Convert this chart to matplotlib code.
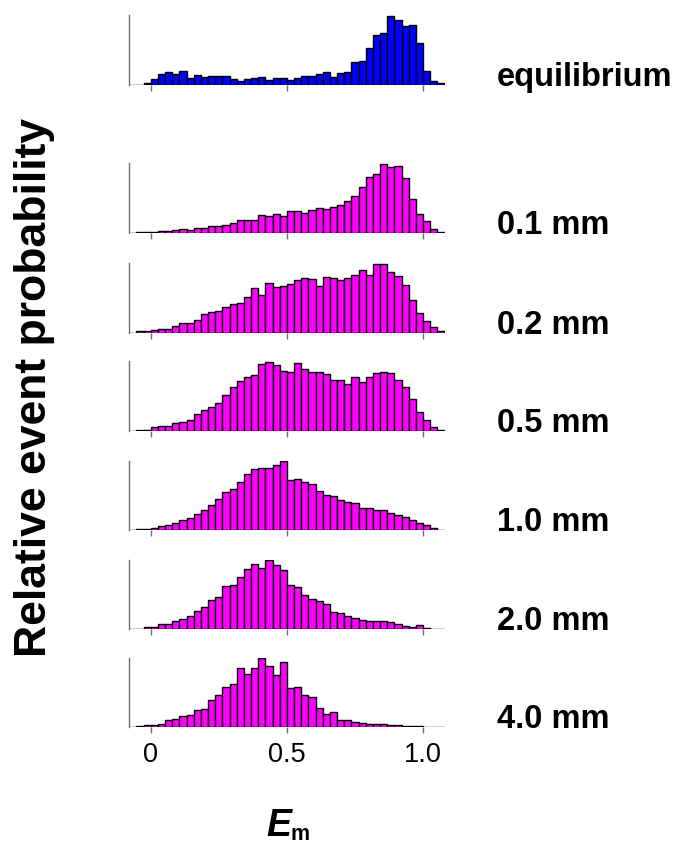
import matplotlib
matplotlib.use("Agg")
import matplotlib.pyplot as plt
import numpy as np

plt.rcParams['font.family'] = ['Liberation Sans', 'DejaVu Sans']

# E_m histograms, 44 bins of width 1/38 starting 3 bins below 0
bin_width = 1.0 / 38
n_bins = 44

equilibrium = [0, 0, 5, 17, 35, 39, 33, 42, 20, 32, 23, 26, 26, 26, 17, 12, 17, 20, 23, 16, 20, 20,
               15, 21, 26, 26, 33, 39, 23, 36, 39, 69, 74, 113, 153, 158, 210, 197, 180, 183, 128, 44, 12, 5]
d_01mm = [1, 4, 4, 4, 7, 7, 10, 13, 10, 15, 15, 20, 22, 25, 30, 40, 39, 39, 54, 51, 57, 51,
          66, 67, 61, 70, 75, 73, 78, 85, 96, 111, 138, 167, 178, 207, 198, 202, 165, 102, 58, 36, 12, 4]
d_02mm = [1, 6, 6, 9, 12, 13, 20, 30, 30, 40, 57, 63, 66, 78, 86, 90, 108, 135, 114, 150, 137, 141,
          147, 159, 166, 163, 141, 167, 165, 160, 166, 174, 190, 174, 207, 207, 184, 171, 143, 100, 60, 36, 18, 6]
d_05mm = [1, 2, 4, 11, 15, 15, 24, 27, 32, 50, 63, 73, 83, 107, 133, 151, 161, 167, 203, 207, 199, 179,
          178, 205, 187, 178, 176, 172, 153, 152, 142, 161, 148, 161, 174, 176, 173, 153, 133, 97, 58, 34, 13, 4]
d_10mm = [1, 2, 3, 7, 11, 15, 20, 29, 36, 49, 60, 77, 93, 116, 125, 147, 169, 184, 188, 188, 197, 209,
          153, 155, 146, 139, 119, 107, 102, 92, 85, 83, 68, 67, 60, 60, 53, 47, 38, 29, 20, 14, 5, 1]
d_20mm = [1, 1, 5, 5, 16, 16, 24, 30, 41, 56, 66, 89, 98, 132, 135, 158, 181, 198, 184, 209, 193, 178,
          134, 128, 102, 92, 86, 77, 53, 49, 41, 32, 26, 24, 24, 24, 21, 14, 8, 5, 11, 4, 0, 1]
d_40mm = [0, 3, 7, 6, 10, 20, 24, 34, 37, 50, 55, 81, 97, 119, 129, 178, 158, 178, 207, 184, 156, 195,
          118, 120, 96, 90, 56, 40, 45, 22, 20, 15, 12, 9, 9, 10, 6, 5, 4, 3, 3, 1, 1, 1]

series = [equilibrium, d_01mm, d_02mm, d_05mm, d_10mm, d_20mm, d_40mm]
labels = ['equilibrium', '0.1 mm', '0.2 mm', '0.5 mm', '1.0 mm', '2.0 mm', '4.0 mm']
colors = ['#0000ff'] + ['#ff00ff'] * 6

tick_vals = [0, 0.5, 1.0]
tick_labels = ['0', '0.5', '1.0']

W, H = 677, 846
fig = plt.figure(figsize=(W / 100, H / 100), dpi=100)

baselines = [85, 233, 333, 431, 530, 629, 727]
panel_h = 69.5
ax_left = 129.2 / W
ax_w = 315.3 / W

edges = (np.arange(n_bins) - 3) * bin_width

for i, vals in enumerate(series):
    vals = np.array(vals, dtype=float)
    vals = vals / vals.max()
    ax = fig.add_axes([ax_left, 1 - baselines[i] / H, ax_w, panel_h / H])
    ax.bar(edges, vals, width=bin_width, align='edge', color=colors[i],
           edgecolor='black', linewidth=1.0)
    ax.set_xlim(-3 * bin_width, 1 + 3 * bin_width)
    ax.set_ylim(0, 1.01)
    for s in ['top', 'right', 'bottom']:
        ax.spines[s].set_visible(False)
    ax.spines['left'].set_color('#707070')
    ax.spines['left'].set_linewidth(1.0)
    ax.set_yticks([])
    ax.set_xticks(tick_vals)
    ax.tick_params(axis='x', direction='out', length=4.5, width=1.0, color='#707070',
                   pad=6, labelsize=19.5)
    if i == len(series) - 1:
        ax.set_xticklabels(tick_labels)
    else:
        ax.set_xticklabels([])
    ax.text(497 / W, 1 - (baselines[i] + 1) / H, labels[i], transform=fig.transFigure,
            fontsize=23.5, fontweight='bold', ha='left', va='baseline')

fig.text(35 / W, 1 - 387 / H, 'Relative event probability', rotation=90,
         fontsize=32, fontweight='bold', ha='center', va='center')

fig.text(291 / W, 1 - 836 / H, 'E', fontsize=27, fontweight='bold', fontstyle='italic',
         ha='right', va='baseline')
fig.text(290 / W, 1 - 840 / H, 'm', fontsize=15.5, fontweight='bold',
         ha='left', va='baseline')

fig.savefig('out.png', dpi=100)
